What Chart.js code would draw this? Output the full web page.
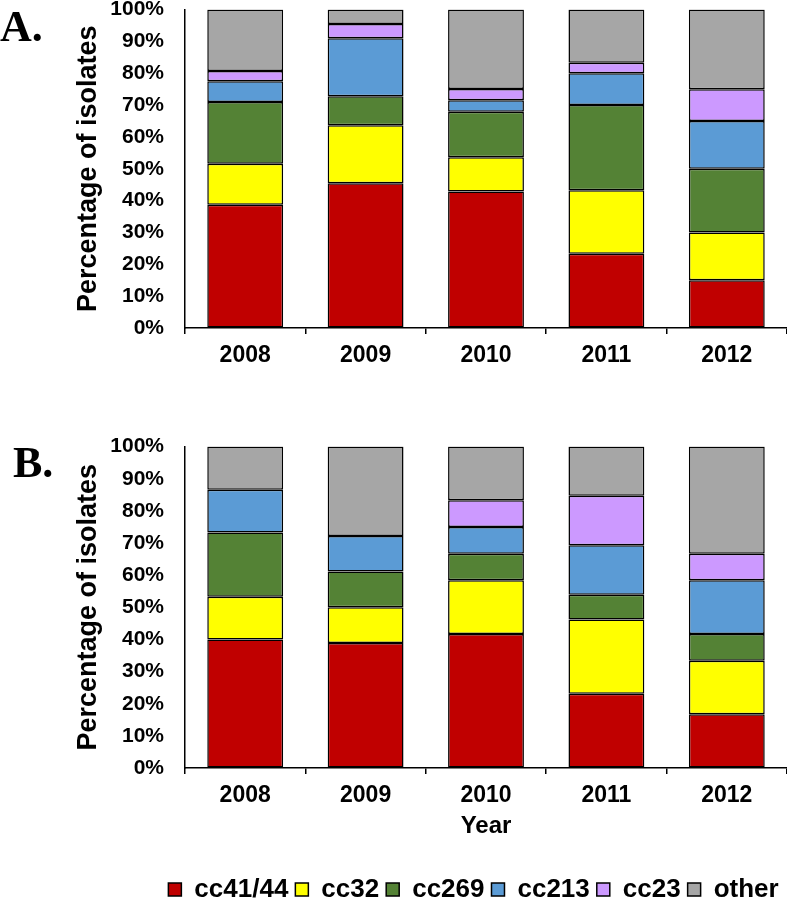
<!DOCTYPE html>
<html><head><meta charset="utf-8">
<script src="https://cdn.jsdelivr.net/npm/chart.js@4.4.1/dist/chart.umd.min.js"></script>
<style>
html,body{margin:0;padding:0;background:#fff;overflow:hidden;width:787px;height:900px;}
#wrap{position:relative;width:787px;height:900px;overflow:hidden;}
.panel{position:absolute;font-family:"Liberation Serif","Times New Roman",serif;font-weight:bold;font-size:44px;line-height:44px;color:#000;margin:0;}
#cA{position:absolute;left:0;top:-24px;width:787px;height:397px;}
#cB{position:absolute;left:0;top:413px;width:787px;height:497px;}
</style></head>
<body><div id="wrap">
<canvas id="cA" width="787" height="397"></canvas>
<canvas id="cB" width="787" height="497"></canvas>
<div class="panel" style="left:0px;top:5px;">A.</div>
<div class="panel" style="left:13px;top:441px;">B.</div>
</div>
<script>
// ---- data ----
const years = ['2008', '2009', '2010', '2011', '2012'];
const seriesNames = ['cc41/44', 'cc32', 'cc269', 'cc213', 'cc23', 'other'];

// Panel A (percentage of isolates)
const a_cc4144 = [38.7, 45.5, 42.9, 23.3, 15.0];
const a_cc32   = [12.9, 18.2, 10.7, 20.0, 15.0];
const a_cc269  = [19.4,  9.1, 14.3, 26.7, 20.0];
const a_cc213  = [ 6.5, 18.2,  3.6, 10.0, 15.0];
const a_cc23   = [ 3.2,  4.5,  3.6,  3.3, 10.0];
const a_other  = [19.3,  4.5, 24.9, 16.7, 25.0];

// Panel B (percentage of isolates)
const b_cc4144 = [40.0, 38.9, 41.7, 23.1, 16.7];
const b_cc32   = [13.3, 11.1, 16.7, 23.1, 16.7];
const b_cc269  = [20.0, 11.1,  8.3,  7.7,  8.3];
const b_cc213  = [13.3, 11.1,  8.3, 15.4, 16.7];
const b_cc23   = [null, null,  8.3, 15.4,  8.3];
const b_other  = [13.4, 27.8, 16.7, 15.3, 33.3];

const yTickStep = 10;

// ---- styles ----
const seriesColors = ['#C00000', '#FFFF00', '#548235', '#5B9BD5', '#CC99FF', '#A6A6A6'];
const FONT = '"Liberation Sans", Arial, sans-serif';
Chart.defaults.color = '#000';
Chart.defaults.font.family = FONT;

function buildDatasets(arrs) {
  return arrs.map((d, i) => ({
    label: seriesNames[i],
    data: d,
    backgroundColor: seriesColors[i],
    borderColor: '#000',
    borderWidth: 1.5,
    borderSkipped: false,
    categoryPercentage: 1.0,
    barPercentage: 0.63
  }));
}

const legendPlace = {
  id: 'legendPlace',
  afterInit(chart) {
    const lg = chart.legend;
    if (!lg) return;
    const fit = lg.fit.bind(lg);
    lg.fit = function () { fit(); this.height = 40.5; };
  },
  afterLayout(chart) {
    const lg = chart.legend;
    if (!lg) return;
    lg.left = 100; lg.right = 847;
  }
};

function makeChart(id, arrs, isB) {
  return new Chart(document.getElementById(id), {
    type: 'bar',
    data: { labels: years, datasets: buildDatasets(arrs) },
    plugins: isB ? [legendPlace] : [],
    options: {
      responsive: false,
      animation: false,
      layout: { padding: 0 },
      plugins: {
        tooltip: { enabled: false },
        legend: {
          display: isB,
          position: 'bottom',
          labels: {
            boxWidth: 13, boxHeight: 13, padding: 7, color: '#000',
            font: { family: FONT, size: 26, weight: 'bold' }
          }
        }
      },
      scales: {
        x: {
          stacked: true,
          grid: { offset: true, drawOnChartArea: false, drawTicks: true, tickLength: 6, color: '#000', lineWidth: 1.5 },
          border: { display: true, color: '#000', width: 1.5 },
          ticks: { color: '#000', padding: 8, font: { family: FONT, size: 23, weight: 'bold' } },
          title: {
            display: isB, text: 'Year', color: '#000',
            font: { family: FONT, size: 24, weight: 'bold' },
            padding: { top: 0, bottom: 29 }
          },
          afterFit(s) { s.height = isB ? 101.5 : 45; }
        },
        y: {
          stacked: true, min: 0, max: 100,
          grid: { drawOnChartArea: false, drawTicks: false },
          border: { display: true, color: '#000', width: 1.5 },
          ticks: {
            stepSize: yTickStep, padding: 21, color: '#000',
            callback: v => v + '%',
            font: { family: FONT, size: 21, weight: 'bold' }
          },
          title: {
            display: true, text: 'Percentage of isolates', color: '#000',
            font: { family: FONT, size: 27, weight: 'bold' },
            padding: { top: 72, bottom: 0 }
          },
          afterFit(s) { s.width = 185; }
        }
      }
    }
  });
}

makeChart('cA', [a_cc4144, a_cc32, a_cc269, a_cc213, a_cc23, a_other], false);
makeChart('cB', [b_cc4144, b_cc32, b_cc269, b_cc213, b_cc23, b_other], true);
</script>
</body></html>
